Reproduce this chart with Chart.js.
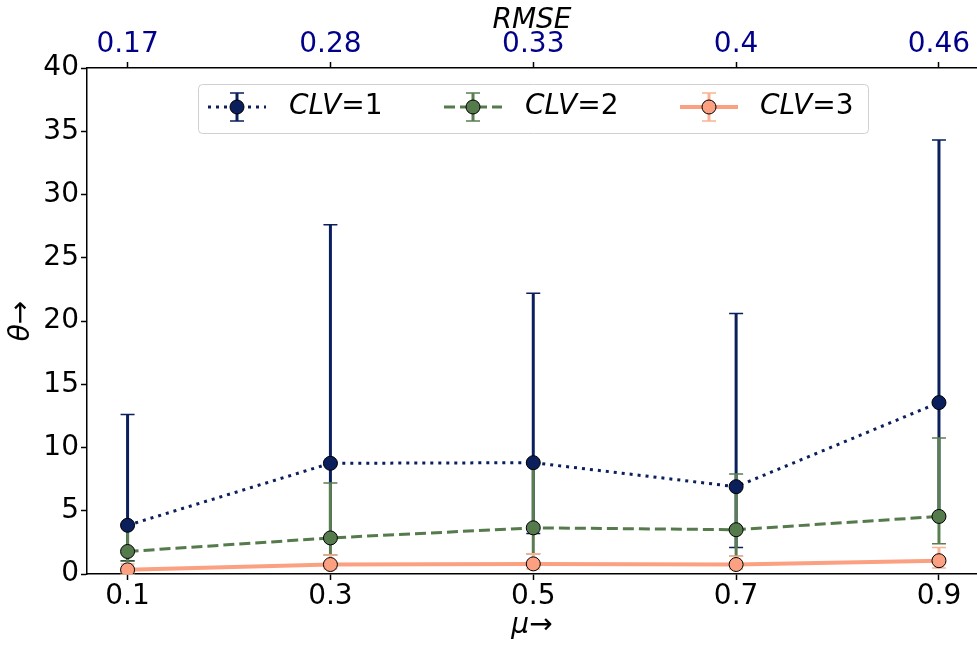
<!DOCTYPE html>
<html>
<head>
<meta charset="utf-8">
<script src="https://cdn.jsdelivr.net/npm/chart.js@4.4.1/dist/chart.umd.min.js"></script>
<style>
  body { margin: 0; background: #fff; overflow: hidden; }
</style>
</head>
<body>
<!-- a bit wider than the window: the right spine of the original is cut off by the frame -->
<canvas id="myChart" width="985" height="646"></canvas>
<script>
// x categories (mu) and the matching RMSE labels on the top axis
var muValues = [0.1, 0.3, 0.5, 0.7, 0.9];
var rmseLabels = ['0.17', '0.28', '0.33', '0.4', '0.46'];

// CLV=1
var clv1Mean = [3.85, 8.75, 8.8, 6.9, 13.55];
var clv1Low = [1.05, 2.85, 3.2, 2.1, 4.55];
var clv1High = [12.6, 27.6, 22.2, 20.6, 34.3];
// CLV=2
var clv2Mean = [1.78, 2.85, 3.65, 3.5, 4.55];
var clv2Low = [1.0, 1.5, 1.6, 1.4, 2.4];
var clv2High = [3.85, 7.2, 8.8, 7.9, 10.75];
// CLV=3
var clv3Mean = [0.33, 0.75, 0.8, 0.75, 1.05];
var clv3Low = [0.0, 0.4, 0.4, 0.4, 0.47];
var clv3High = [0.8, 1.5, 1.6, 1.4, 2.1];

var seriesNames = ['CLV', 'CLV', 'CLV'];
var seriesSuffix = ['=1', '=2', '=3'];

var FONT = "'DejaVu Sans', sans-serif";
var FSIZE = 28;

function toPoints(values) {
    return values.map(function(v, i) { return { x: muValues[i], y: v }; });
}

// error bars, drawn under the lines and markers
var errorBarPlugin = {
    id: 'errorBars',
    beforeDatasetsDraw: function(chart) {
        var ctx = chart.ctx;
        var xs = chart.scales.x;
        var ys = chart.scales.y;
        chart.data.datasets.forEach(function(ds) {
            ctx.save();
            ctx.strokeStyle = ds.errColor;
            ds.data.forEach(function(p, i) {
                var x = xs.getPixelForValue(p.x);
                var yLo = ys.getPixelForValue(ds.errLow[i]);
                var yHi = ys.getPixelForValue(ds.errHigh[i]);
                ctx.lineWidth = 3;
                ctx.beginPath();
                ctx.moveTo(x, yLo);
                ctx.lineTo(x, yHi);
                ctx.stroke();
                ctx.lineWidth = 1.5;
                ctx.beginPath();
                ctx.moveTo(x - 7, yLo); ctx.lineTo(x + 7, yLo);
                ctx.moveTo(x - 7, yHi); ctx.lineTo(x + 7, yHi);
                ctx.stroke();
            });
            ctx.restore();
        });
    }
};

// matplotlib style legend box inside the plot
var legendPlugin = {
    id: 'boxLegend',
    afterDraw: function(chart) {
        var ctx = chart.ctx;
        var left = 198, top = 84, w = 670, h = 49, cy = 107;
        ctx.save();
        ctx.fillStyle = 'rgba(255,255,255,0.8)';
        ctx.strokeStyle = '#d0d0d0';
        ctx.lineWidth = 1;
        ctx.beginPath();
        ctx.roundRect(left + 0.5, top + 0.5, w, h, 4);
        ctx.fill();
        ctx.stroke();

        var handleX = [208, 444, 680];
        var textX = [289, 525, 760];
        chart.data.datasets.forEach(function(ds, i) {
            var hx = handleX[i];
            var mx = hx + 29;
            // line sample
            ctx.strokeStyle = ds.borderColor;
            ctx.lineWidth = ds.borderWidth;
            ctx.setLineDash(ds.borderDash || []);
            ctx.beginPath();
            ctx.moveTo(hx, cy);
            ctx.lineTo(hx + 58, cy);
            ctx.stroke();
            ctx.setLineDash([]);
            // error bar sample
            ctx.strokeStyle = ds.errColor;
            ctx.lineWidth = 3;
            ctx.beginPath();
            ctx.moveTo(mx, cy - 14);
            ctx.lineTo(mx, cy + 14);
            ctx.stroke();
            ctx.lineWidth = 1.5;
            ctx.beginPath();
            ctx.moveTo(mx - 7, cy - 14); ctx.lineTo(mx + 7, cy - 14);
            ctx.moveTo(mx - 7, cy + 14); ctx.lineTo(mx + 7, cy + 14);
            ctx.stroke();
            // marker
            ctx.fillStyle = ds.pointBackgroundColor;
            ctx.strokeStyle = '#000';
            ctx.lineWidth = 1;
            ctx.beginPath();
            ctx.arc(mx, cy, 7, 0, Math.PI * 2);
            ctx.fill();
            ctx.stroke();
            // label: italic name + upright suffix
            ctx.fillStyle = '#000';
            ctx.textBaseline = 'middle';
            ctx.textAlign = 'left';
            ctx.font = 'italic ' + FSIZE + 'px ' + FONT;
            ctx.fillText(seriesNames[i], textX[i], cy);
            var nw = ctx.measureText(seriesNames[i]).width;
            ctx.font = FSIZE + 'px ' + FONT;
            ctx.fillText(seriesSuffix[i], textX[i] + nw, cy);
        });
        ctx.restore();
    }
};

function fixedTicks(scale) {
    scale.ticks = muValues.map(function(v) { return { value: v }; });
}

var ctx = document.getElementById('myChart').getContext('2d');
var myChart = new Chart(ctx, {
    type: 'line',
    data: {
        datasets: [{
            label: 'CLV=1',
            data: toPoints(clv1Mean),
            errLow: clv1Low,
            errHigh: clv1High,
            errColor: '#0a1f5c',
            borderColor: '#0a1f5c',
            borderWidth: 3,
            borderDash: [3, 5],
            pointBackgroundColor: '#0a1f5c',
            pointBorderColor: '#000',
            pointBorderWidth: 1,
            pointRadius: 7,
            order: 3
        }, {
            label: 'CLV=2',
            data: toPoints(clv2Mean),
            errLow: clv2Low,
            errHigh: clv2High,
            errColor: '#5a7d51',
            borderColor: '#557a4b',
            borderWidth: 3,
            borderDash: [11, 5],
            pointBackgroundColor: '#557a4b',
            pointBorderColor: '#000',
            pointBorderWidth: 1,
            pointRadius: 7,
            order: 2
        }, {
            label: 'CLV=3',
            data: toPoints(clv3Mean),
            errLow: clv3Low,
            errHigh: clv3High,
            errColor: '#fbb394',
            borderColor: '#fca082',
            borderWidth: 4,
            pointBackgroundColor: '#fca082',
            pointBorderColor: '#000',
            pointBorderWidth: 1,
            pointRadius: 7,
            order: 1
        }]
    },
    options: {
        responsive: false,
        animation: false,
        devicePixelRatio: 1,
        layout: { padding: 0 },
        plugins: {
            legend: { display: false },
            tooltip: { enabled: false }
        },
        elements: { line: { tension: 0, borderCapStyle: 'butt' } },
        scales: {
            x: {
                type: 'linear',
                position: 'bottom',
                min: 0.06,
                max: 0.9375,
                afterBuildTicks: fixedTicks,
                afterFit: function(scale) { scale.height = 72; },
                grid: { drawOnChartArea: false, drawTicks: true, tickLength: 6, tickWidth: 1.5, tickColor: '#000' },
                border: { display: true, color: '#000', width: 1.5 },
                ticks: {
                    color: '#000',
                    padding: 0,
                    maxRotation: 0,
                    font: { family: FONT, size: FSIZE },
                    callback: function(value) { return String(value); }
                },
                title: {
                    display: true,
                    text: 'μ→',
                    color: '#000',
                    font: { family: FONT, size: FSIZE, style: 'italic' },
                    padding: { top: 0, bottom: 3 }
                }
            },
            x2: {
                type: 'linear',
                position: 'top',
                min: 0.06,
                max: 0.9375,
                afterBuildTicks: fixedTicks,
                afterFit: function(scale) { scale.height = 68; },
                grid: { drawOnChartArea: false, drawTicks: true, tickLength: 6, tickWidth: 1.5, tickColor: '#000' },
                border: { display: true, color: '#000', width: 1.5 },
                ticks: {
                    color: '#00008b',
                    padding: 0,
                    maxRotation: 0,
                    font: { family: FONT, size: FSIZE },
                    callback: function(value, index) { return rmseLabels[index]; }
                },
                title: {
                    display: true,
                    text: 'RMSE',
                    color: '#000',
                    font: { family: FONT, size: FSIZE, style: 'italic' },
                    padding: { top: 4, bottom: 0 }
                }
            },
            y: {
                min: 0,
                max: 40,
                afterFit: function(scale) { scale.width = 87; },
                grid: { drawOnChartArea: false, drawTicks: true, tickLength: 6, tickWidth: 1.5, tickColor: '#000' },
                border: { display: true, color: '#000', width: 1.5 },
                ticks: {
                    stepSize: 5,
                    color: '#000',
                    padding: 2,
                    font: { family: FONT, size: FSIZE }
                },
                title: {
                    display: true,
                    text: 'θ→',
                    color: '#000',
                    font: { family: FONT, size: FSIZE, style: 'italic' },
                    padding: { top: 5, bottom: 0 }
                }
            }
        }
    },
    plugins: [errorBarPlugin, legendPlugin]
});
</script>
</body>
</html>
